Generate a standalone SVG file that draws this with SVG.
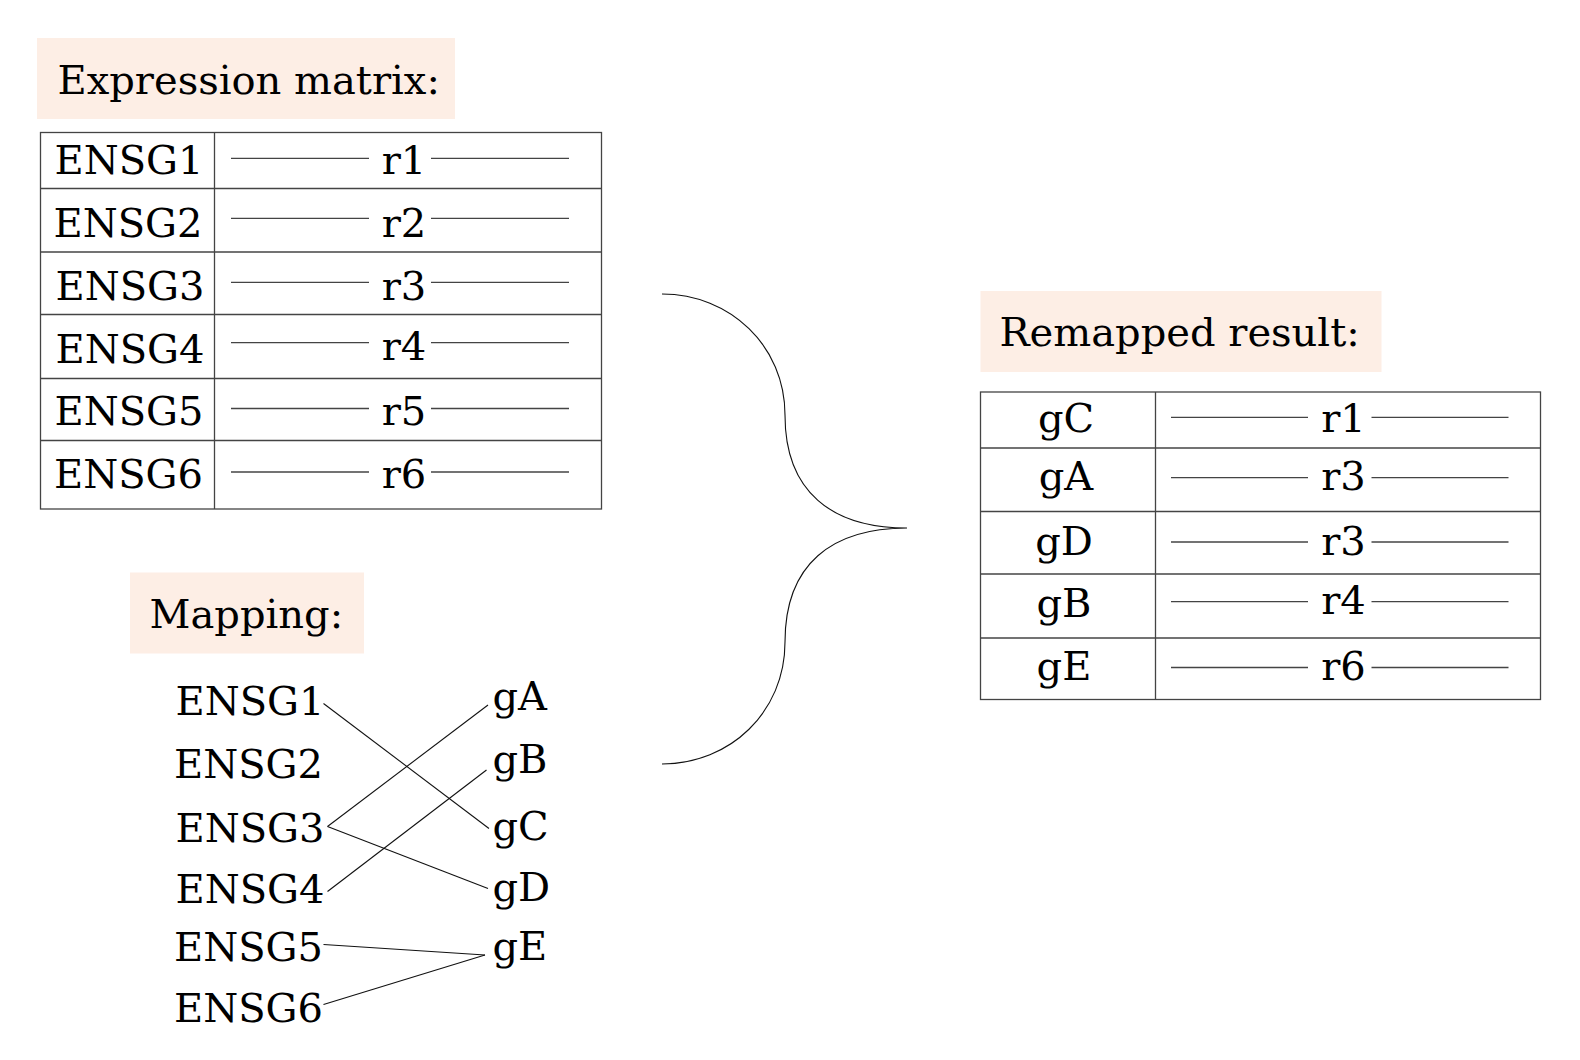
<svg xmlns="http://www.w3.org/2000/svg" width="1580" height="1060" viewBox="0 0 1580 1060">
<style>
text{font-family:"DejaVu Serif","Liberation Serif",serif;font-size:40px;fill:#000}
.c{text-anchor:middle}
.title{fill:#fdeee5;stroke:none}
.tb{fill:none;stroke:#444;stroke-width:1.3}
.dash{stroke:#444;stroke-width:1.3}
.conn{fill:none;stroke:#111;stroke-width:1.1}
</style>
<rect width="1580" height="1060" fill="#fff"/>

<g id="expr-title">
<rect class="title" x="37" y="38" width="418" height="81"/>
<text x="57.5" y="93.5">Expression matrix:</text>
</g>

<g id="expr-table">
<rect class="tb" x="40.5" y="132.5" width="561" height="376.5"/>
<line class="tb" x1="214.5" y1="132.5" x2="214.5" y2="509"/>
<line class="tb" x1="40.5" y1="188.5" x2="601.5" y2="188.5"/>
<line class="tb" x1="40.5" y1="252" x2="601.5" y2="252"/>
<line class="tb" x1="40.5" y1="314.5" x2="601.5" y2="314.5"/>
<line class="tb" x1="40.5" y1="378.5" x2="601.5" y2="378.5"/>
<line class="tb" x1="40.5" y1="440.5" x2="601.5" y2="440.5"/>
<text class="c" x="129" y="173.5">ENSG1</text>
<text class="c" x="128" y="236.5">ENSG2</text>
<text class="c" x="130" y="300">ENSG3</text>
<text class="c" x="130" y="363">ENSG4</text>
<text class="c" x="129" y="425">ENSG5</text>
<text class="c" x="128.5" y="488">ENSG6</text>
<text class="c" x="404" y="173.5">r1</text>
<text class="c" x="404" y="236.5">r2</text>
<text class="c" x="404" y="300">r3</text>
<text class="c" x="404" y="360">r4</text>
<text class="c" x="404" y="425">r5</text>
<text class="c" x="404" y="488">r6</text>
<g class="dash">
<line x1="231" y1="158.3" x2="369" y2="158.3"/><line x1="431" y1="158.3" x2="569" y2="158.3"/>
<line x1="231" y1="218.3" x2="369" y2="218.3"/><line x1="431" y1="218.3" x2="569" y2="218.3"/>
<line x1="231" y1="282.3" x2="369" y2="282.3"/><line x1="431" y1="282.3" x2="569" y2="282.3"/>
<line x1="231" y1="342.7" x2="369" y2="342.7"/><line x1="431" y1="342.7" x2="569" y2="342.7"/>
<line x1="231" y1="408.5" x2="369" y2="408.5"/><line x1="431" y1="408.5" x2="569" y2="408.5"/>
<line x1="231" y1="472" x2="369" y2="472"/><line x1="431" y1="472" x2="569" y2="472"/>
</g>
</g>

<g id="mapping-title">
<rect class="title" x="130" y="572.5" width="234" height="81"/>
<text x="149.5" y="627.5">Mapping:</text>
</g>

<g id="mapping-left">
<text x="175.5" y="715">ENSG1</text>
<text x="174" y="778">ENSG2</text>
<text x="175.5" y="841.5">ENSG3</text>
<text x="175.5" y="902.5">ENSG4</text>
<text x="174" y="961">ENSG5</text>
<text x="174" y="1021.5">ENSG6</text>
</g>
<g id="mapping-right">
<text x="492.5" y="710">gA</text>
<text x="492.5" y="773">gB</text>
<text x="492.5" y="840">gC</text>
<text x="492.5" y="901">gD</text>
<text x="492.5" y="960">gE</text>
</g>

<g id="connectors">
<line class="conn" x1="323.5" y1="703.5" x2="489" y2="828.5"/>
<line class="conn" x1="327.5" y1="826.5" x2="488" y2="705"/>
<line class="conn" x1="327.5" y1="826.5" x2="488" y2="888.5"/>
<line class="conn" x1="327.5" y1="891.5" x2="486.5" y2="770"/>
<line class="conn" x1="323.5" y1="944.5" x2="485" y2="955"/>
<line class="conn" x1="323.5" y1="1004.5" x2="485" y2="955"/>
<path class="conn" d="M662,294 C730,294 785,346 785,415 C785,492 832,528 907,528 C832,528 785,564 785,642 C785,712 730,764 662,764"/>
</g>

<g id="result-title">
<rect class="title" x="980.5" y="291" width="401" height="81"/>
<text x="999.5" y="346">Remapped result:</text>
</g>

<g id="result-table">
<rect class="tb" x="980.5" y="392" width="560" height="307.5"/>
<line class="tb" x1="1155.5" y1="392" x2="1155.5" y2="699.5"/>
<line class="tb" x1="980.5" y1="448" x2="1540.5" y2="448"/>
<line class="tb" x1="980.5" y1="511.5" x2="1540.5" y2="511.5"/>
<line class="tb" x1="980.5" y1="574" x2="1540.5" y2="574"/>
<line class="tb" x1="980.5" y1="638" x2="1540.5" y2="638"/>
<text class="c" x="1066" y="431.5">gC</text>
<text class="c" x="1066" y="490">gA</text>
<text class="c" x="1064" y="555">gD</text>
<text class="c" x="1064" y="616.5">gB</text>
<text class="c" x="1064" y="680">gE</text>
<text class="c" x="1343.5" y="431.5">r1</text>
<text class="c" x="1343.5" y="490">r3</text>
<text class="c" x="1343.5" y="555">r3</text>
<text class="c" x="1343.5" y="614">r4</text>
<text class="c" x="1343.5" y="680">r6</text>
<g class="dash">
<line x1="1171" y1="417.3" x2="1308" y2="417.3"/><line x1="1371.5" y1="417.3" x2="1508.5" y2="417.3"/>
<line x1="1171" y1="477.7" x2="1308" y2="477.7"/><line x1="1371.5" y1="477.7" x2="1508.5" y2="477.7"/>
<line x1="1171" y1="542" x2="1308" y2="542"/><line x1="1371.5" y1="542" x2="1508.5" y2="542"/>
<line x1="1171" y1="601.7" x2="1308" y2="601.7"/><line x1="1371.5" y1="601.7" x2="1508.5" y2="601.7"/>
<line x1="1171" y1="667.5" x2="1308" y2="667.5"/><line x1="1371.5" y1="667.5" x2="1508.5" y2="667.5"/>
</g>
</g>
</svg>
